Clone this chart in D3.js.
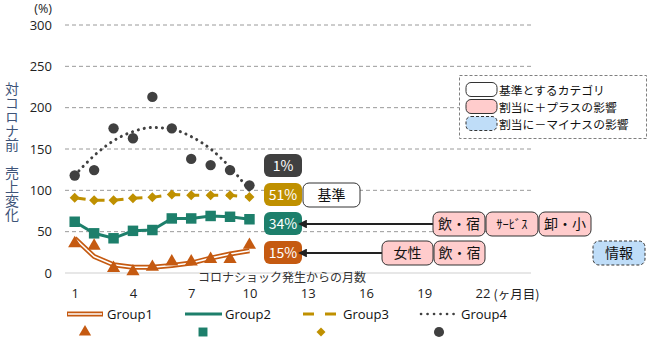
<!DOCTYPE html>
<html><head><meta charset="utf-8">
<script src="https://cdn.jsdelivr.net/npm/d3@7"></script>
<style>
body{margin:0;background:#fff;}
svg{display:block;font-family:"Noto Sans CJK JP","Noto Sans",sans-serif;}
</style></head><body>
<svg id="c" width="651" height="341"></svg>
<script>
// ---- data ----
const months = [1,2,3,4,5,6,7,8,9,10];
const group1 = [37, 34, 7, 3, 8.5, 15, 15, 18, 18, 35];
const group1Trend = [42, 20, 10, 7, 7, 9, 12, 18, 23, 27];
const group2 = [62, 48, 42, 51, 52, 66, 66, 69, 68, 65];
const group3 = [91, 88, 88, 90.5, 91.5, 95, 94, 94, 94, 92];
const group4 = [118, 124.5, 175, 163, 213, 175, 138, 130.5, 124.5, 106];
const group4Trend = [118, 142, 160, 171, 176, 174, 165, 150, 128, 100];
const xTicks = [1,4,7,10,13,16,19,22];
const yTicks = [0,50,100,150,200,250,300];
const seriesNames = ["Group1","Group2","Group3","Group4"];
const shareLabels = ["1%","51%","34%","15%"];   // Group4, Group3, Group2, Group1
const plusRow1 = ["飲・宿","ｻｰﾋﾞｽ","卸・小"];
const plusRow2 = ["女性","飲・宿"];
const minusRow2 = ["情報"];
const legendItems = ["基準とするカテゴリ","割当に＋プラスの影響","割当に－マイナスの影響"];

const C1="#C55A11", C2="#1D7F6B", C3="#BF9000", C4="#404040";
const PINK="#FFCCCC", BLUE="#BFDDF8";
const NUMFONT="'Open Sans','Noto Sans',sans-serif";

const svg = d3.select("#c");
const x = d3.scaleLinear().domain([0.5,24.5]).range([65,531]);
const y = d3.scaleLinear().domain([0,300]).range([273,25]);

// gridlines
svg.append("g").selectAll("line").data(yTicks.filter(d=>d>0)).join("line")
  .attr("x1",65).attr("x2",531).attr("y1",d=>y(d)).attr("y2",d=>y(d))
  .attr("stroke","#9a9a9a").attr("stroke-width",1).attr("stroke-dasharray","4,3");
svg.append("line").attr("x1",65).attr("x2",531).attr("y1",y(0)).attr("y2",y(0))
  .attr("stroke","#d0d0d0").attr("stroke-width",1.2);

// y axis labels
const yAxis = d3.axisLeft(y).tickValues(yTicks).tickSize(0).tickPadding(0);
const gy = svg.append("g").attr("transform","translate(52,0)").call(yAxis);
gy.select(".domain").remove();
gy.selectAll("text").attr("font-size",13).attr("fill","#222").attr("font-family",NUMFONT);
svg.append("text").attr("x",52).attr("y",13).attr("text-anchor","end")
  .attr("font-size",12.5).attr("fill","#222").attr("font-family",NUMFONT).text("(%)");

// y axis title (vertical)
svg.append("text").attr("x",12).attr("y",82)
  .attr("font-size",14).attr("fill","#3E5479")
  .style("writing-mode","vertical-rl").style("text-orientation","upright")
  .text("対コロナ前　売上変化");

// x axis labels
const xAxis = d3.axisBottom(x).tickValues(xTicks).tickSize(0).tickPadding(0).tickFormat(d=>d);
const gx = svg.append("g").attr("transform","translate(0,289)").call(xAxis);
gx.select(".domain").remove();
gx.selectAll("text").attr("font-size",13).attr("fill","#222").attr("font-family",NUMFONT);
svg.append("text").attr("x",x(22)+11).attr("y",299).attr("font-size",12.5).attr("fill","#222").text("(ヶ月目)");
svg.append("text").attr("x",282).attr("y",282).attr("text-anchor","middle")
  .attr("font-size",12).attr("fill","#333").text("コロナショック発生からの月数");

// lines
const pts = arr => arr.map((v,i)=>[months[i],v]);
const lin = d3.line().x(d=>x(d[0])).y(d=>y(d[1]));
const smooth = d3.line().x(d=>x(d[0])).y(d=>y(d[1])).curve(d3.curveMonotoneX);

svg.append("path").attr("d",smooth(pts(group4Trend))).attr("fill","none")
  .attr("stroke",C4).attr("stroke-width",3).attr("stroke-linecap","round").attr("stroke-dasharray","0.1,6");
svg.append("path").attr("d",lin(pts(group3))).attr("fill","none")
  .attr("stroke",C3).attr("stroke-width",3).attr("stroke-dasharray","11,8");
svg.append("path").attr("d",lin(pts(group2))).attr("fill","none")
  .attr("stroke",C2).attr("stroke-width",3);
svg.append("path").attr("d",lin(pts(group1Trend))).attr("fill","none")
  .attr("stroke",C1).attr("stroke-width",5).attr("stroke-linejoin","round");
svg.append("path").attr("d",lin(pts(group1Trend))).attr("fill","none")
  .attr("stroke","#fff").attr("stroke-width",1.6).attr("stroke-linejoin","round");

// markers
const tri = d3.symbol().type(d3.symbolTriangle).size(75);
const sq = d3.symbol().type(d3.symbolSquare).size(110);
const dia = d3.symbol().type(d3.symbolSquare).size(50);
const cir = d3.symbol().type(d3.symbolCircle).size(85);
svg.append("g").selectAll("path").data(pts(group4)).join("path")
  .attr("d",cir).attr("fill",C4).attr("transform",d=>`translate(${x(d[0])},${y(d[1])})`);
svg.append("g").selectAll("path").data(pts(group3)).join("path")
  .attr("d",dia).attr("fill",C3).attr("transform",d=>`translate(${x(d[0])},${y(d[1])}) rotate(45)`);
svg.append("g").selectAll("path").data(pts(group2)).join("path")
  .attr("d",sq).attr("fill",C2).attr("transform",d=>`translate(${x(d[0])},${y(d[1])})`);
svg.append("g").selectAll("path").data(pts(group1)).join("path")
  .attr("d",tri).attr("fill",C1).attr("transform",d=>`translate(${x(d[0])},${y(d[1])+1})`);

// share label boxes
const shareColors=[C4,C3,C2,C1];
const rowY=[154,183,212,241], boxH=23;
shareLabels.forEach((t,i)=>{
  svg.append("rect").attr("x",264).attr("y",rowY[i]).attr("width",38).attr("height",boxH)
    .attr("rx",6).attr("fill",shareColors[i]);
  svg.append("text").attr("x",283).attr("y",rowY[i]+boxH/2+5).attr("text-anchor","middle")
    .attr("font-size",14).attr("fill","#fff").text(t);
});
function tag(xp,yp,w,t,fill,dashed,fs){
  svg.append("rect").attr("x",xp).attr("y",yp).attr("width",w).attr("height",boxH+1)
    .attr("rx",6).attr("fill",fill).attr("stroke","#333").attr("stroke-width",1)
    .attr("stroke-dasharray",dashed?"3,2":null);
  svg.append("text").attr("x",xp+w/2).attr("y",yp+(boxH+1)/2+5).attr("text-anchor","middle")
    .attr("font-size",fs||14).attr("fill","#111").text(t);
}
tag(303,rowY[1],57,"基準","#fff",false);

// arrows
svg.append("defs").append("marker").attr("id","ah").attr("viewBox","0 0 10 10")
  .attr("refX",1).attr("refY",5).attr("markerWidth",4).attr("markerHeight",4)
  .attr("orient","auto-start-reverse").append("path").attr("d","M0,0L10,5L0,10z").attr("fill","#222");
svg.append("line").attr("x1",433).attr("x2",306).attr("y1",rowY[2]+12).attr("y2",rowY[2]+12)
  .attr("stroke","#222").attr("stroke-width",2.2).attr("marker-end","url(#ah)");
svg.append("line").attr("x1",382).attr("x2",306).attr("y1",rowY[3]+12).attr("y2",rowY[3]+12)
  .attr("stroke","#222").attr("stroke-width",2.2).attr("marker-end","url(#ah)");

plusRow1.forEach((t,i)=>tag(433+i*53,rowY[2],52,t,PINK,false,t==="ｻｰﾋﾞｽ"?12.5:14));
plusRow2.forEach((t,i)=>tag(382+i*52,rowY[3],51,t,PINK,false));
minusRow2.forEach((t,i)=>tag(593,rowY[3],52,t,BLUE,true));

// legend box (top right)
svg.append("rect").attr("x",459.5).attr("y",75.5).attr("width",187).attr("height",63)
  .attr("fill","#fff").attr("stroke","#7f7f7f").attr("stroke-dasharray","3,2");
const legFill=["#fff",PINK,BLUE];
legendItems.forEach((t,i)=>{
  const yy=82.5+i*17;
  svg.append("rect").attr("x",466).attr("y",yy).attr("width",31).attr("height",14).attr("rx",5)
    .attr("fill",legFill[i]).attr("stroke","#333").attr("stroke-dasharray",i===2?"3,2":null);
  svg.append("text").attr("x",499).attr("y",yy+12).attr("font-size",11.8).attr("fill","#111").text(t);
});

// bottom legend
const legX=[67,185,303,421];
const lg=svg.append("g");
lg.append("line").attr("x1",legX[0]).attr("x2",legX[0]+36).attr("y1",314).attr("y2",314).attr("stroke",C1).attr("stroke-width",5);
lg.append("line").attr("x1",legX[0]+1).attr("x2",legX[0]+35).attr("y1",314).attr("y2",314).attr("stroke","#fff").attr("stroke-width",1.6);
lg.append("line").attr("x1",legX[1]).attr("x2",legX[1]+37).attr("y1",314).attr("y2",314).attr("stroke",C2).attr("stroke-width",3);
lg.append("line").attr("x1",legX[2]).attr("x2",legX[2]+34).attr("y1",314).attr("y2",314).attr("stroke",C3).attr("stroke-width",3).attr("stroke-dasharray","11,11");
lg.append("line").attr("x1",legX[3]).attr("x2",legX[3]+33).attr("y1",314).attr("y2",314).attr("stroke",C4).attr("stroke-width",2.6).attr("stroke-linecap","round").attr("stroke-dasharray","0.1,6.4");
seriesNames.forEach((n,i)=>{
  lg.append("text").attr("x",legX[i]+40).attr("y",319).attr("font-size",13).attr("fill","#111")
    .attr("font-family",NUMFONT).text(n);
});
const legMX=[85,203,321,439];
lg.append("path").attr("d",d3.symbol().type(d3.symbolTriangle).size(65)()).attr("fill",C1).attr("transform",`translate(${legMX[0]},332)`);
lg.append("path").attr("d",d3.symbol().type(d3.symbolSquare).size(80)()).attr("fill",C2).attr("transform",`translate(${legMX[1]},332)`);
lg.append("path").attr("d",d3.symbol().type(d3.symbolSquare).size(40)()).attr("fill",C3).attr("transform",`translate(${legMX[2]},332) rotate(45)`);
lg.append("path").attr("d",d3.symbol().type(d3.symbolCircle).size(80)()).attr("fill",C4).attr("transform",`translate(${legMX[3]},332)`);
</script>
</body></html>
